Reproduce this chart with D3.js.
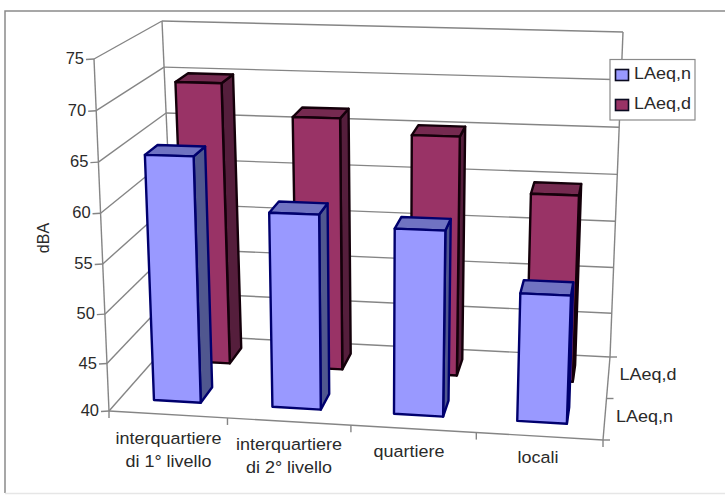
<!DOCTYPE html>
<html>
<head>
<meta charset="utf-8">
<script src="https://cdn.jsdelivr.net/npm/d3@7"></script>
<style>
  html, body { margin: 0; padding: 0; background: #fff; }
  svg { display: block; }
  text { font-family: "Liberation Sans", Arial, sans-serif; fill: #2a2a2a; }
</style>
</head>
<body>
<svg id="chart" width="725" height="495"></svg>
<script>
// Road categories, with each label split over its lines
const categories = ["interquartiere di 1° livello", "interquartiere di 2° livello", "quartiere", "locali"];
const categoryLines = [["interquartiere", "di 1° livello"], ["interquartiere", "di 2° livello"], ["quartiere"], ["locali"]];

// Noise levels in dBA per road category
const laeqN = [65.0, 59.7, 58.6, 52.8];
const laeqD = [70.0, 66.7, 65.2, 59.6];

const seriesNames = ["LAeq,n", "LAeq,d"];
const valueTicks = [40, 45, 50, 55, 60, 65, 70, 75];

const faceColours = {
  "LAeq,n": { front: "#9999ff", top: "#7073c2", side: "#50578f", line: "#00006e" },
  "LAeq,d": { front: "#993366", top: "#752a50", side: "#551e3c", line: "#14000a" }
};

const svg = d3.select("#chart");

// Box corners on screen: [front/back][left/right][floor/ceiling]
const box = {
  fl0: [109, 411], fl1: [94, 59], fr0: [603, 440], fr1: [617, 70],
  bl0: [176, 335], bl1: [162, 21], br0: [610, 357], br1: [623, 32]
};

// Slight foreshortening along width and height, as seen through a 3D camera
const warp = d3.scalePow().exponent(1.03).domain([0, 1]).range([0, 1]);
const zScale = d3.scaleLinear().domain([40, 75]).range([0, 1]);
const uBand = d3.scaleBand().domain(categories).range([0, 1]).paddingInner(0.6).paddingOuter(0.3);
const wEdges = { "LAeq,n": [0.17, 0.37], "LAeq,d": [0.68, 0.88] };

const mix = (a, b, t) => [a[0] + (b[0] - a[0]) * t, a[1] + (b[1] - a[1]) * t];

// Trilinear projection from box coordinates to the screen
function project(u, w, z) {
  const uu = warp(u), zz = warp(z);
  const front = mix(mix(box.fl0, box.fr0, uu), mix(box.fl1, box.fr1, uu), zz);
  const back = mix(mix(box.bl0, box.br0, uu), mix(box.bl1, box.br1, uu), zz);
  return mix(front, back, w);
}

const line = d3.line();
const gridColour = "#858585";

function edge(g, a, b, width) {
  g.append("path").attr("d", line([a, b])).attr("fill", "none")
    .attr("stroke", gridColour).attr("stroke-width", width || 1.4);
}

// Outer frame of the chart area
svg.append("path").attr("d", line([[5, 493], [5, 11], [725, 11]]))
  .attr("fill", "none").attr("stroke", "#8a8a8a").attr("stroke-width", 1.5);
svg.append("path").attr("d", line([[5, 493.5], [725, 493.5]]))
  .attr("fill", "none").attr("stroke", "#e6e6e6").attr("stroke-width", 1.5);

// Walls, floor and gridlines
const walls = svg.append("g");
valueTicks.forEach(v => {
  const z = zScale(v);
  edge(walls, project(0, 0, z), project(0, 1, z));
  edge(walls, project(0, 1, z), project(1, 1, z));
  const p = project(0, 0, z);
  edge(walls, [p[0] - 8, p[1] + 0.5], p);
  svg.append("text").attr("x", p[0] - 10).attr("y", p[1] - 1)
    .attr("text-anchor", "end").attr("dominant-baseline", "central")
    .attr("font-size", 16.5).text(v);
});
edge(walls, project(0, 0, 0), project(0, 0, 1));
edge(walls, project(0, 1, 0), project(0, 1, 1));
edge(walls, project(1, 1, 0), project(1, 1, 1));
edge(walls, project(0, 0, 0), project(1, 0, 0));
edge(walls, project(1, 0, 0), project(1, 1, 0));

// Category ticks along the front of the floor
[0.25, 0.5, 0.75].forEach(u => {
  const p = project(u, 0, 0);
  edge(walls, p, [p[0], p[1] + 7]);
});
const fl = project(0, 0, 0);
edge(walls, fl, [fl[0], fl[1] + 7]);
const fr = project(1, 0, 0);
edge(walls, fr, [fr[0] + 7, fr[1]]);
edge(walls, fr, [fr[0], fr[1] + 7]);

// Series ticks along the right of the floor
[0.5, 1].forEach(w => {
  const p = project(1, w, 0);
  edge(walls, p, [p[0] + 7, p[1]]);
});

// One cuboid: side and top first, front face over them
function drawBar(g, name, cat, value) {
  const c = faceColours[name];
  const u0 = uBand(cat), u1 = u0 + uBand.bandwidth();
  const [w0, w1] = wEdges[name];
  const z = zScale(value);
  const quads = [
    [[u1, w0, 0], [u1, w1, 0], [u1, w1, z], [u1, w0, z], c.side],
    [[u0, w0, z], [u1, w0, z], [u1, w1, z], [u0, w1, z], c.top],
    [[u0, w0, 0], [u1, w0, 0], [u1, w0, z], [u0, w0, z], c.front]
  ];
  quads.forEach(q => {
    g.append("path")
      .attr("d", line(q.slice(0, 4).map(p => project(...p))) + "Z")
      .attr("fill", q[4]).attr("stroke", c.line)
      .attr("stroke-width", 2.4).attr("stroke-linejoin", "round");
  });
}

const bars = svg.append("g");
categories.forEach((cat, i) => drawBar(bars, "LAeq,d", cat, laeqD[i]));
categories.forEach((cat, i) => drawBar(bars, "LAeq,n", cat, laeqN[i]));

// Text widened to the chart's horizontal stretch
function wideText(x, y, str, size, sx) {
  return svg.append("text")
    .attr("transform", `translate(${x},${y}) scale(${sx},1)`)
    .attr("text-anchor", "middle").attr("font-size", size).text(str);
}

// Category labels
const labelCentres = [168.5, 289, 409, 538];
const labelBaselines = [444, 450, 457, 463];
categoryLines.forEach((lines, i) => {
  lines.forEach((t, j) => {
    wideText(labelCentres[i], labelBaselines[i] + j * 23, t, 16.5, 1.09);
  });
});

// Value axis title
svg.append("text").attr("transform", "translate(49,238) rotate(-90)")
  .attr("text-anchor", "middle").attr("font-size", 16).text("dBA");

// Series labels next to the floor
wideText(648, 380, seriesNames[1], 16.5, 1.09);
wideText(644.5, 422, seriesNames[0], 16.5, 1.09);

// Legend
const legend = svg.append("g");
legend.append("rect").attr("x", 610).attr("y", 59.5).attr("width", 85).attr("height", 60.5)
  .attr("fill", "#fff").attr("stroke", "#8a8a8a").attr("stroke-width", 1.2);
const legendY = d3.scalePoint().domain(seriesNames).range([75, 105]);
seriesNames.forEach(name => {
  const y = legendY(name);
  legend.append("rect").attr("x", 615.5).attr("y", y - 5.5).attr("width", 13).attr("height", 11)
    .attr("fill", faceColours[name].front).attr("stroke", "#0a0a20").attr("stroke-width", 1.6);
  svg.append("text")
    .attr("transform", `translate(634,${y + 4}) scale(1.09,1)`)
    .attr("font-size", 16.5).text(name);
});
</script>
</body>
</html>
